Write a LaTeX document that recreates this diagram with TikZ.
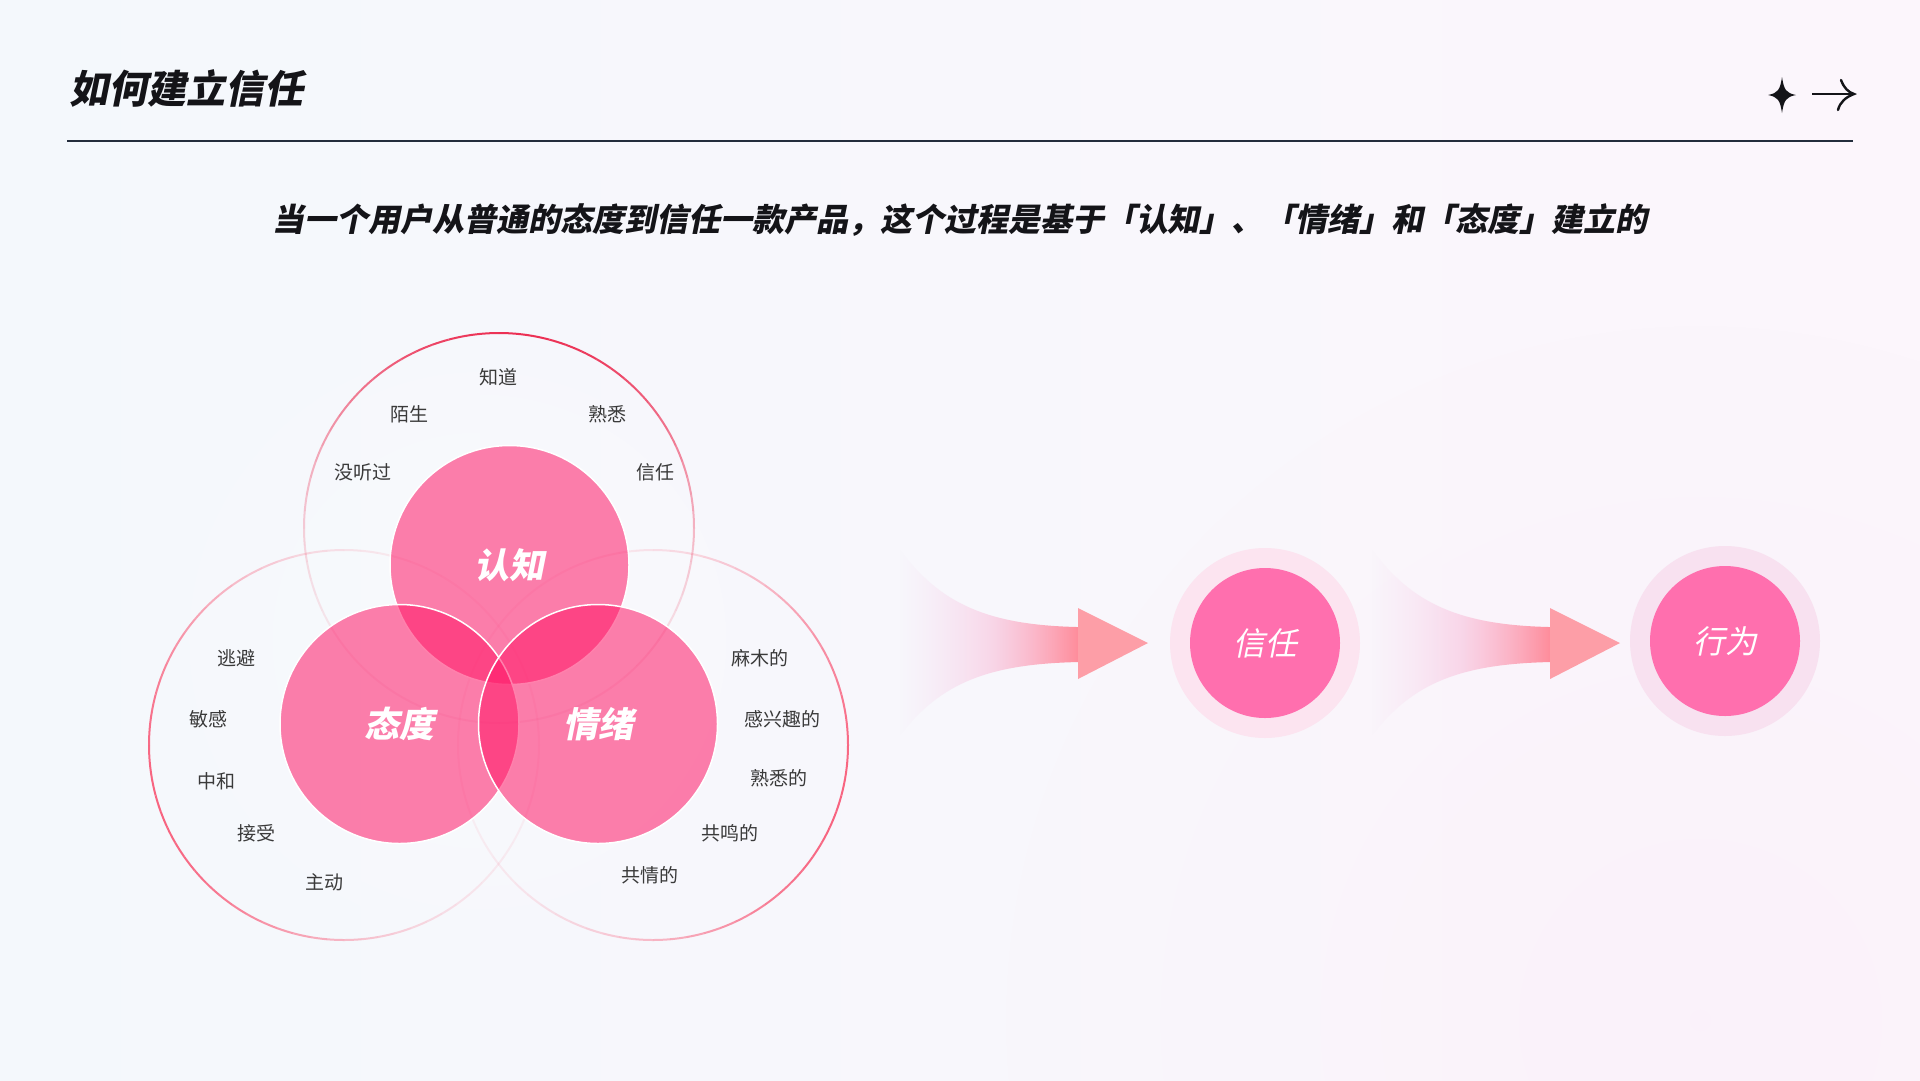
\documentclass[tikz,border=0pt]{standalone}
\usepackage{fontspec}
\usetikzlibrary{fadings}
\newfontfamily\cjk{Noto Sans CJK SC}
\newfontfamily\cjksl{Noto Sans CJK SC}[FakeSlant=0.2]
\definecolor{bgL}{RGB}{244,248,252}
\definecolor{bgR}{RGB}{252,246,252}
\definecolor{ink}{RGB}{20,20,24}
\definecolor{rulec}{RGB}{35,45,60}
\definecolor{ringTop}{RGB}{236,48,84}
\definecolor{ringSide}{RGB}{248,100,128}
\definecolor{vennc}{RGB}{255,24,104}
\definecolor{labc}{RGB}{58,58,58}
\definecolor{arrowL}{RGB}{246,205,236}
\definecolor{arrowM}{RGB}{248,185,215}
\definecolor{arrowR}{RGB}{255,140,155}
\definecolor{headc}{RGB}{253,158,167}
\definecolor{haloA}{RGB}{252,228,240}
\definecolor{haloB}{RGB}{248,225,240}
\definecolor{corec}{RGB}{255,111,174}
\definecolor{glowc}{RGB}{250,228,244}
\tikzfading[name=fadeR, left color=transparent!100, right color=transparent!0]
\tikzfading[name=glowfade, inner color=transparent!50, outer color=transparent!100]
\newcommand\fadering[3]{%
  \foreach \a in {0,5,...,355}{%
    \pgfmathsetmacro\op{0.07+0.93*((1+cos(\a-#2))/2)^2.2}%
    \draw[#3, line width=2pt, opacity=\op] (#1) ++(\a:195) arc[start angle=\a, end angle=\a+5, radius=195];
  }%
}
\begin{document}
\begin{tikzpicture}[x=1pt,y=-1pt,
  vlab/.style={font=\cjk\fontsize{19}{22}\selectfont, text=labc, inner sep=0pt},
  vfill/.style={circle, minimum size=239pt, inner sep=0pt, fill=vennc, fill opacity=0.55,
     draw=white, draw opacity=1, line width=1.5pt, text opacity=1, text=white,
     font=\cjksl\bfseries\fontsize{35}{40}\selectfont},
  halo/.style={circle, minimum size=190pt, inner sep=0pt},
  core/.style={circle, minimum size=150pt, inner sep=0pt, fill=corec, text=white,
     font=\cjksl\fontsize{32}{38}\selectfont},
  bodyshape/.style={left color=arrowL, right color=arrowR, middle color=arrowM, path fading=fadeR},
  headshape/.style={fill=headc}]
% background
\useasboundingbox (0,0) rectangle (1920,1080);
\fill[left color=bgL, right color=bgR] (0,0) rectangle (1920,1080);
\fill[glowc, path fading=glowfade, opacity=0.45] (1700,1020) circle[radius=700pt];
\fill[white, path fading=glowfade, opacity=0.5] (480,640) circle[radius=480pt];

% header
\node[anchor=west, inner sep=0pt, text=ink, font=\cjksl\bfseries\fontsize{39}{44}\selectfont] (title) at (69,88) {如何建立信任};
\coordinate (ruleL) at (67,141);
\coordinate (ruleR) at (1853,141);
\draw[rulec, line width=2.2pt] (ruleL) -- (ruleR);
\fill[ink] (1782,77) .. controls (1784,90) and (1786,93) .. (1796,95)
  .. controls (1786,97) and (1784,100) .. (1782,113)
  .. controls (1780,100) and (1778,97) .. (1768,95)
  .. controls (1778,93) and (1780,90) .. (1782,77) -- cycle;
\coordinate (arrL) at (1812,94);
\coordinate (arrR) at (1854,94);
\draw[ink, line width=2.4pt] (arrL) -- (arrR);
\draw[ink, line width=2.4pt, line cap=round] (1841,80) .. controls (1844,88) and (1848,92) .. (arrR)
  .. controls (1846,97) and (1840,102) .. (1838,110);

\node[inner sep=0pt, text=ink, font=\cjksl\bfseries\fontsize{32}{38}\selectfont] (sub) at (960,220)
  {当一个用户从普通的态度到信任一款产品，这个过程是基于「认知」、「情绪」和「态度」建立的};

% Venn outer rings (angles in the flipped frame: screen angle = -a)
\coordinate (oTop) at (499,528);
\coordinate (oLeft) at (344,745);
\coordinate (oRight) at (653,745);
\fadering{oTop}{-85}{ringTop}
\fadering{oLeft}{-200}{ringSide}
\fadering{oRight}{15}{ringSide}

% Venn filled circles
\node[vfill] (renzhi) at (509.5,565) {认知};
\node[vfill] (taidu) at (399.5,724) {态度};
\node[vfill] (qingxu) at (598,724) {情绪};

% Venn labels
\node[vlab] (l1) at (498,377) {知道};
\node[vlab] (l2) at (409,414) {陌生};
\node[vlab] (l3) at (607,414) {熟悉};
\node[vlab] (l4) at (363,472) {没听过};
\node[vlab] (l5) at (655,472) {信任};
\node[vlab] (l6) at (236,658) {逃避};
\node[vlab] (l7) at (208,719) {敏感};
\node[vlab] (l8) at (216,781) {中和};
\node[vlab] (l9) at (256,833) {接受};
\node[vlab] (l10) at (324,882) {主动};
\node[vlab] (l11) at (760,658) {麻木的};
\node[vlab] (l12) at (782,719) {感兴趣的};
\node[vlab] (l13) at (779,778) {熟悉的};
\node[vlab] (l14) at (730,833) {共鸣的};
\node[vlab] (l15) at (650,875) {共情的};

% flow arrows
\foreach \dx in {0,472}{
  \begin{scope}[xshift=\dx pt]
    \shade[bodyshape] (899,548) .. controls (940,605) and (990,625) .. (1078,627)
      -- (1078,662) .. controls (990,664) and (940,682) .. (899,737) -- cycle;
    \fill[headshape] (1078,608) -- (1148,643) -- (1078,679) -- cycle;
  \end{scope}
}

% trust / behaviour circles
\node[halo, fill=haloA] (trustHalo) at (1265,643) {};
\node[core] (trust) at (1265,643) {信任};
\node[halo, fill=haloB] (actHalo) at (1725,641) {};
\node[core] (act) at (1725,641) {行为};
\end{tikzpicture}
\end{document}
